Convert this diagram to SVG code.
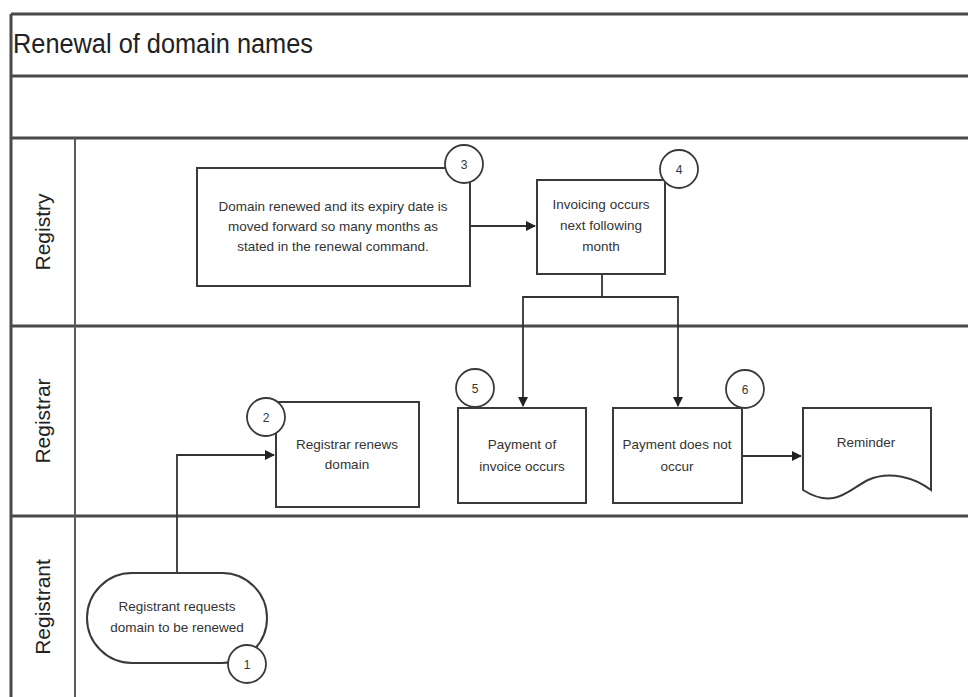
<svg xmlns="http://www.w3.org/2000/svg" width="968" height="697" viewBox="0 0 968 697">
<defs>
<style>
.frame{stroke:#4a4a4a;stroke-width:3;fill:none}
.thin{stroke:#5a5a5a;stroke-width:2;fill:none}
.box{fill:#fff;stroke:#3a3a3a;stroke-width:2}
.num{fill:#fff;stroke:#3a3a3a;stroke-width:1.8}
.conn{stroke:#333;stroke-width:1.8;fill:none}
.t{font-family:"Liberation Sans",Arial,sans-serif;font-size:13.5px;fill:#333;text-anchor:middle}
.n{font-family:"Liberation Sans",Arial,sans-serif;font-size:12px;fill:#333;text-anchor:middle}
.lane{font-family:"Liberation Sans",Arial,sans-serif;font-size:21px;fill:#222;text-anchor:middle}
.title{font-family:"Liberation Sans",Arial,sans-serif;font-size:27px;fill:#222}
</style>
<marker id="ah" markerWidth="10" markerHeight="10" refX="9" refY="5" orient="auto" markerUnits="userSpaceOnUse">
<path d="M0,0 L10,5 L0,10 z" fill="#222"/>
</marker>
</defs>
<rect width="968" height="697" fill="#fff"/>
<g id="frame">
<line class="frame" x1="11" y1="14" x2="968" y2="14"/>
<line class="frame" x1="11" y1="76" x2="968" y2="76"/>
<line class="frame" x1="11" y1="138" x2="968" y2="138"/>
<line class="frame" x1="11" y1="326" x2="968" y2="326"/>
<line class="frame" x1="11" y1="516" x2="968" y2="516"/>
<line class="frame" x1="11" y1="14" x2="11" y2="697"/>
<line class="thin" x1="75" y1="138" x2="75" y2="697"/>
<text class="title" x="13" y="53" textLength="300" lengthAdjust="spacingAndGlyphs">Renewal of domain names</text>
</g>
<g id="lane-registry"><text class="lane" transform="translate(50,232) rotate(-90)">Registry</text></g>
<g id="lane-registrar"><text class="lane" transform="translate(50,421) rotate(-90)">Registrar</text></g>
<g id="lane-registrant"><text class="lane" transform="translate(50,607) rotate(-90)">Registrant</text></g>
<g id="connectors">
<polyline class="conn" points="177,573 177,455 274,455" marker-end="url(#ah)"/>
<line class="conn" x1="470" y1="226" x2="535" y2="226" marker-end="url(#ah)"/>
<polyline class="conn" points="602,274 602,297 523,297 523,406" marker-end="url(#ah)"/>
<polyline class="conn" points="602,297 678,297 678,406" marker-end="url(#ah)"/>
<line class="conn" x1="742" y1="456" x2="801" y2="456" marker-end="url(#ah)"/>
</g>
<g id="node1">
<rect class="box" x="87" y="573" width="180" height="90" rx="45" ry="45"/>
<text class="t" x="177" y="611">Registrant requests</text>
<text class="t" x="177" y="632">domain to be renewed</text>
<circle class="num" cx="247" cy="664" r="19"/>
<text class="n" x="247" y="669">1</text>
</g>
<g id="node2">
<rect class="box" x="276" y="402" width="143" height="105"/>
<text class="t" x="347" y="449">Registrar renews</text>
<text class="t" x="347" y="469">domain</text>
<circle class="num" cx="266" cy="417" r="19"/>
<text class="n" x="266" y="422">2</text>
</g>
<g id="node3">
<rect class="box" x="197" y="168" width="273" height="118"/>
<text class="t" x="333" y="211">Domain renewed and its expiry date is</text>
<text class="t" x="333" y="231">moved forward so many months as</text>
<text class="t" x="333" y="251">stated in the renewal command.</text>
<circle class="num" cx="464" cy="164" r="19"/>
<text class="n" x="464" y="169">3</text>
</g>
<g id="node4">
<rect class="box" x="537" y="180" width="128" height="94"/>
<text class="t" x="601" y="209">Invoicing occurs</text>
<text class="t" x="601" y="230">next following</text>
<text class="t" x="601" y="251">month</text>
<circle class="num" cx="679" cy="169" r="19"/>
<text class="n" x="679" y="174">4</text>
</g>
<g id="node5">
<rect class="box" x="458" y="408" width="128" height="95"/>
<text class="t" x="522" y="449">Payment of</text>
<text class="t" x="522" y="471">invoice occurs</text>
<circle class="num" cx="475" cy="388" r="19"/>
<text class="n" x="475" y="393">5</text>
</g>
<g id="node6">
<rect class="box" x="613" y="408" width="129" height="95"/>
<text class="t" x="677" y="449">Payment does not</text>
<text class="t" x="677" y="471">occur</text>
<circle class="num" cx="745" cy="389" r="19"/>
<text class="n" x="745" y="394">6</text>
</g>
<g id="reminder">
<path class="box" d="M803,408 L931,408 L931,490 C915,478 890,470 868,480 C848,490 835,510 803,490 Z"/>
<text class="t" x="866" y="447">Reminder</text>
</g>
</svg>
